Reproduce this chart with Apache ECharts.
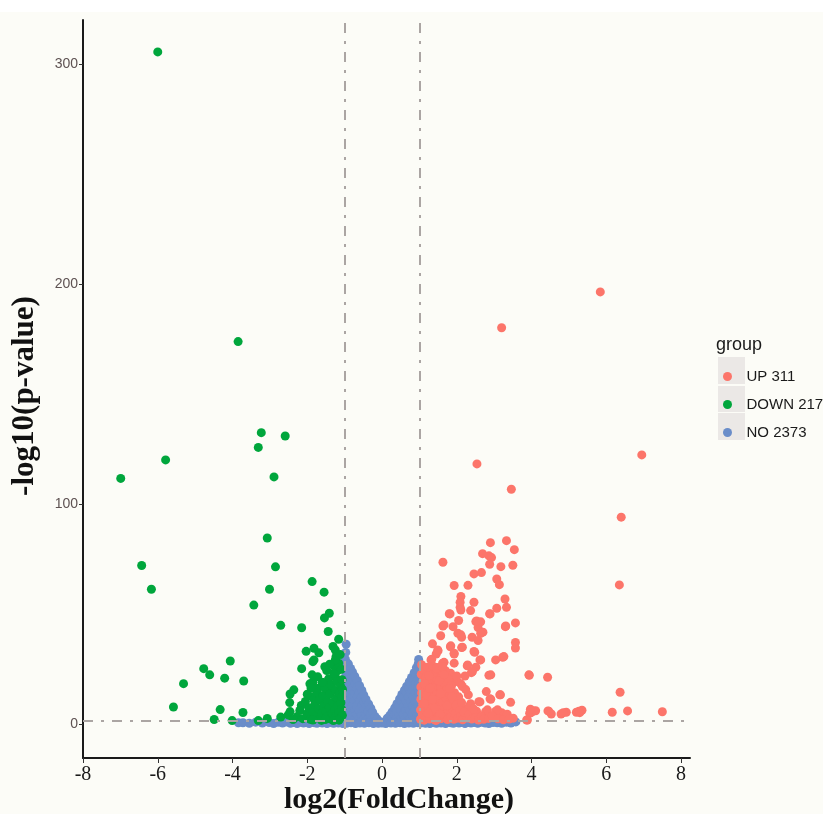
<!DOCTYPE html>
<html>
<head>
<meta charset="utf-8">
<script src="https://cdn.jsdelivr.net/npm/echarts@6/dist/echarts.min.js"></script>
<style>
html,body{margin:0;padding:0;background:#ffffff;}
#chart{width:823px;height:814px;}
</style>
</head>
<body>
<div id="chart"></div>
<script>
// ---- data (log2FC, -log10 p) ----
const groupNames = ['UP 311', 'DOWN 217', 'NO 2373'];
const xTicks = [-8, -6, -4, -2, 0, 2, 4, 6, 8];
const yTicks = [0, 100, 200, 300];
const fcThreshold = [-1, 1];
const pThreshold = 1.3;

const downPoints = [
[-6.0,305.5],[-3.85,173.8],[-3.23,132.4],[-2.59,130.9],[-3.31,125.7],[-5.79,120],[-6.99,111.6],[-2.89,112.3],
[-3.07,84.5],[-6.43,72],[-6.17,61.2],[-2.85,71.4],[-1.87,64.7],[-1.55,59.9],[-3.01,61.2],[-3.43,54],
[-2.71,44.8],[-2.15,43.7],[-1.41,50.3],[-1.54,48.2],[-1.44,42],[-1.16,38.5],[-4.06,28.6],[-4.77,25.1],
[-4.61,22.3],[-4.21,20.8],[-3.7,19.5],[-5.31,18.3],[-5.58,7.7],[-4.33,6.5],[-3.72,5.2],[-4.49,2.0],
[-4.01,1.5],[-3.07,2.5],[-2.71,3.1],[-3.31,1.5],[-2.51,4.1],[-2.03,33],[-1.82,34.4],[-1.69,32.3],
[-2.15,25.1],[-1.85,28.3],[-1.53,26],[-1.87,22.3],[-1.85,18.9],[-1.93,18.2],[-2.36,15.5],[-2.46,13.6],
[-2.47,9.7],[-2.16,8.4],[-2.46,5.6],[-1.31,35.2],[-1.25,33.6],[-1.23,30.6],[-1.27,26],[-1.19,24.1],
[-1.45,18.5],[-1.23,20.8],[-1.71,16.2],[-1.41,14.7],[-1.81,10.9],[-1.82,29.1],
[-2.28,3.2],[-2.2,6.1],[-2.12,2.4],[-2.05,10.2],[-2.0,4.8],[-1.96,7.3],[-1.92,2.1],[-1.88,12.4],
[-1.85,5.5],[-1.8,8.6],[-1.77,3.4],[-1.74,14.1],[-1.7,6.9],[-1.67,10.8],[-1.64,2.6],[-1.61,4.9],
[-1.58,12.9],[-1.56,8.1],[-1.53,16.4],[-1.5,5.8],[-1.48,3.1],[-1.46,10.2],[-1.43,20.5],[-1.41,7.4],
[-1.39,13.6],[-1.37,2.2],[-1.35,17.8],[-1.33,4.6],[-1.31,9.8],[-1.29,22.9],[-1.27,6.3],[-1.25,15.2],
[-1.23,3.5],[-1.21,11.7],[-1.2,19.3],[-1.18,8.2],[-1.16,27.6],[-1.15,5.1],[-1.14,13.9],[-1.12,2.8],
[-1.11,17.2],[-1.1,9.6],[-1.09,24.8],[-1.08,6.7],[-1.08,12.3],[-1.07,20.1],[-1.06,3.9],[-1.06,15.8],
[-1.6,18.9],[-1.72,21.4],[-1.9,16.3],[-2.0,13.5],[-1.48,24.3],[-1.25,29.1],[-1.12,31.5],[-1.4,27.1],
[-1.62,1.6],[-1.85,1.8],[-2.38,2.0],[-1.3,1.5],[-1.15,1.7],[-1.52,2.0]
];

const upPoints = [
[5.84,196.4],[3.2,180.1],[6.95,122.3],[2.54,118.2],[3.46,106.7],[6.4,94],[6.35,63.2],[6.37,14.4],
[3.94,22.1],[4.43,21.2],[7.5,5.5],[6.57,5.9],[6.16,5.3],[3.95,4.9],[4.06,5.9],[3.89,1.8],
[4.44,5.9],[4.53,4.5],[4.79,4.5],[4.93,5.3],[5.2,5.3],[5.35,6.2],[5.29,5.1],
[1.63,73.5],[2.9,82.4],[3.33,83.3],[3.54,79.2],[2.69,77.4],[2.86,76.4],[2.93,75.6],[2.88,72.6],
[3.18,71.5],[3.5,72.1],[2.66,68.8],[2.46,68.2],[1.93,62.9],[2.3,63],[3.07,65.9],[3.14,63.3],
[2.11,57.9],[2.09,55.3],[2.09,53],[2.46,55.3],[2.37,51.5],[3.29,56.8],[3.07,52.6],[3.33,53],
[2.88,50.1],[1.8,50.1],[2.05,47],[2.53,46.8],[2.64,46.4],[3.57,45.9],[1.63,44.5],[1.9,44.2],
[2.57,43.8],[3.3,44.2],[2.7,41.7],[1.57,40.1],[2.03,41.2],[2.13,39.4],[2.41,39.4],[2.57,37.9],
[3.57,37],[3.57,34.5],[1.35,36.4],[1.83,35.1],[2.13,34.7],[1.5,33.2],[2.48,32.6],[1.45,31.8],
[1.93,31.8],[1.33,29.4],[1.66,28],[1.93,27.6],[2.62,29.1],[3.04,29.1],[3.23,30.3],[2.28,26.4],
[2.51,25.8],[2.39,23.3],[2.22,21.8],[2.86,22.1],[1.93,19.5],[2.11,18.2],[2.79,14.7],[3.15,13.2],
[2.89,11.4],[2.31,13.2],[2.62,10],[2.37,9.2],[3.44,9.8],[2.11,7.9],[2.53,5.8],[2.77,5.5],
[3.04,5.8],[3.2,5.1],[3.35,4.4],[3.51,2.6],[3.99,5.1],[4.11,6],[4.46,5.8],[4.85,5.1],
[5.27,5.8],[2.28,4.5],[2.02,4.9],[1.84,6.4],[1.88,11.7],[1.75,17],[1.66,23],[1.84,23],
[1.47,25.6],[1.57,26],[1.82,50],[2.11,51.8],[2.89,50],[3.31,44.5],[2.51,46.5],[1.66,45],
[2.64,41.2],[2.11,40.5],[1.84,35.5],[2.15,34.9],[2.46,32.9],[1.49,33.6],[1.31,29.1],[1.62,27.6],
[1.93,32.1],[3.26,30.6],[2.29,26.8],[2.64,29.1],[2.42,23.8],[2.91,22.3],[3.93,22.3],[2.02,19.2],
[2.15,17],[3.17,13.2],[2.91,11.2],[2.59,10.1],[2.33,7.9],[3.97,6.7],[2.82,6.4],[3.09,6.4],
[3.87,1.8],
[1.03,2.1],[1.03,6.4],[1.04,11.2],[1.04,16.8],[1.05,22.5],[1.06,26.9],[1.08,4.2],[1.09,8.9],
[1.1,13.7],[1.1,19.4],[1.12,24.6],[1.13,1.7],[1.15,6.8],[1.16,10.5],[1.17,15.9],[1.18,21.2],
[1.2,3.4],[1.21,25.8],[1.22,8.1],[1.24,12.9],[1.25,18.3],[1.27,2.2],[1.28,5.6],[1.29,23.4],
[1.3,10.2],[1.32,14.8],[1.33,20.1],[1.35,3.9],[1.36,7.5],[1.37,26.2],[1.39,12.1],[1.4,17.2],
[1.42,1.8],[1.43,22.3],[1.44,5.9],[1.45,9.4],[1.47,14.6],[1.48,19.8],[1.5,3.1],[1.51,24.7],
[1.53,7.8],[1.54,11.9],[1.56,16.4],[1.58,2.4],[1.59,21.1],[1.6,5.2],[1.62,9.8],[1.63,13.5],
[1.65,18.7],[1.67,3.8],[1.68,7.1],[1.7,24.2],[1.72,11.4],[1.73,15.6],[1.75,2.0],[1.77,5.9],
[1.78,20.3],[1.8,9.1],[1.82,13.2],[1.84,3.3],[1.86,17.4],[1.88,6.7],[1.9,10.8],[1.92,2.1],
[1.94,14.2],[1.96,4.8],[1.98,8.5],[2.0,21.8],[2.03,2.6],[2.05,12.3],[2.08,6.1],[2.1,3.4],
[2.13,9.7],[2.16,1.9],[2.2,5.3],[2.24,15.6],[2.28,2.7],[2.33,4.2],[2.4,2.2],[2.45,6.8],
[2.5,2.9],[2.58,1.8],[2.66,3.4],[2.72,2.1],[2.85,2.5],[2.95,3.6],[3.1,2.3],[3.25,1.9],
[3.4,2.2],[1.06,14.1],[1.14,18.2],[1.19,13.2],[1.26,21.9],[1.34,16.6],[1.41,7.2],[1.46,25.3],
[1.52,19.6],[1.57,13.9],[1.66,22.4],[1.74,8.3],[1.81,16.1],[1.87,12.5],[1.35,11.1],[1.55,4.4],
[1.12,9.3],[1.23,4.9],[1.45,1.6],[1.28,16.2],[1.62,26.1]
];

const noPoints = [
[-0.99,2.2],[-0.99,6.1],[-0.98,10.3],[-0.98,14.2],[-0.98,18.4],[-0.97,22.1],[-0.97,25.9],[-0.98,29.4],[-0.97,32.5],[-0.96,36.2],
[-0.92,1.1],[-0.93,4.3],[-0.92,8.2],[-0.91,12.4],[-0.92,16.1],[-0.91,20.3],[-0.92,24.2],[-0.9,27.3],
[-0.86,2.3],[-0.85,6.2],[-0.86,10.1],[-0.85,14.3],[-0.84,18.2],[-0.86,22.1],[-0.84,25.2],
[-0.8,1.2],[-0.79,4.4],[-0.8,8.3],[-0.79,12.2],[-0.8,16.1],[-0.78,20.2],[-0.79,23.6],
[-0.74,2.1],[-0.73,6.3],[-0.74,10.2],[-0.73,14.1],[-0.72,18.3],[-0.73,21.7],
[-0.68,1.1],[-0.67,4.2],[-0.68,8.1],[-0.66,12.3],[-0.67,16.2],[-0.66,19.6],
[-0.62,2.2],[-0.61,6.1],[-0.6,10.3],[-0.61,14.2],[-0.6,17.4],
[-0.56,1.3],[-0.55,4.1],[-0.54,8.2],[-0.55,12.1],[-0.54,15.3],
[-0.5,2.1],[-0.49,6.2],[-0.48,10.1],[-0.49,13.2],
[-0.44,1.1],[-0.43,4.3],[-0.42,8.1],[-0.43,11.2],
[-0.38,2.2],[-0.37,5.6],[-0.36,9.1],
[-0.32,1.2],[-0.31,4.1],[-0.3,7.2],
[-0.26,2.1],[-0.25,5.3],[-0.2,1.1],[-0.19,3.4],[-0.14,0.6],[-0.13,2.3],[-0.07,1.1],[0.0,0.4],
[0.07,1.0],[0.13,0.7],[0.14,2.6],[0.2,1.3],[0.21,3.9],[0.26,2.1],[0.27,5.4],[0.32,1.2],[0.33,4.2],[0.34,7.3],
[0.38,2.3],[0.39,5.7],[0.4,9.2],[0.44,1.1],[0.45,4.4],[0.46,8.1],[0.47,11.3],[0.5,2.2],[0.51,6.1],[0.52,10.2],
[0.53,13.4],[0.56,1.2],[0.57,4.3],[0.58,8.2],[0.59,12.1],[0.6,15.3],[0.62,2.1],[0.63,6.2],[0.64,10.3],[0.65,14.2],
[0.66,17.1],[0.68,1.1],[0.69,4.2],[0.7,8.1],[0.71,12.2],[0.72,16.3],[0.73,19.2],[0.74,2.3],[0.75,6.1],[0.76,10.2],
[0.77,14.1],[0.78,18.2],[0.79,21.1],[0.8,1.2],[0.81,4.3],[0.82,8.2],[0.83,12.3],[0.84,16.1],[0.85,20.2],[0.86,23.3],
[0.87,2.1],[0.88,6.2],[0.89,10.1],[0.9,14.2],[0.9,18.1],[0.91,22.3],[0.92,25.6],[0.94,1.1],[0.94,4.2],[0.95,8.3],
[0.95,12.2],[0.96,16.3],[0.96,20.1],[0.97,24.2],[0.97,27.4],[0.98,29.3],[0.98,2.4],[0.99,6.1],[0.99,10.2],[0.99,14.1],[0.99,18.3],
[-3.84,0.5],[-3.72,0.5],[-3.55,0.3],[-3.38,0.8],[-3.2,0.4],[-3.02,0.6],[-2.9,0.2],[-2.78,0.7],[-2.66,0.4],[-2.55,0.9],
[-2.45,0.3],[-2.36,0.6],[-2.27,0.2],[-2.18,0.8],[-2.1,0.4],[-2.02,0.6],[-1.95,0.2],[-1.88,0.9],[-1.81,0.5],[-1.74,0.3],
[-1.67,0.8],[-1.6,0.4],[-1.53,0.6],[-1.47,0.2],[-1.41,0.9],[-1.35,0.5],[-1.29,0.3],[-1.23,0.8],[-1.17,0.4],[-1.11,0.6],
[-1.05,0.2],[-1.02,0.9],
[-0.95,0.3],[-0.83,0.5],[-0.71,0.2],[-0.59,0.4],[-0.47,0.3],[-0.35,0.5],[-0.23,0.2],[-0.1,0.3],
[0.1,0.2],[0.24,0.4],[0.36,0.3],[0.48,0.5],[0.6,0.2],[0.72,0.4],[0.84,0.3],[0.96,0.5],
[1.04,0.4],[1.1,0.8],[1.16,0.3],[1.22,0.6],[1.28,0.2],[1.34,0.9],[1.4,0.5],[1.46,0.3],[1.52,0.8],[1.58,0.4],
[1.64,0.6],[1.7,0.2],[1.77,0.9],[1.84,0.5],[1.91,0.3],[1.98,0.7],[2.06,0.4],[2.14,0.6],[2.22,0.2],[2.3,0.8],
[2.38,0.4],[2.47,0.6],[2.56,0.3],[2.66,0.7],[2.76,0.4],[2.86,0.2],[2.97,0.6],[3.08,0.5],[3.2,0.3],[3.33,0.7],
[3.45,0.4],[3.58,0.9]
];

const colors = { up: '#FC756A', down: '#00A63C', no: '#6A8DC9' };

const chart = echarts.init(document.getElementById('chart'), null, { renderer: 'canvas' });

const dashStyle = { color: '#aba5a3', width: 2, type: [10, 8, 3, 8] };

const option = {
  animation: false,
  backgroundColor: '#fcfcf7',
  grid: { left: 83, right: 133, top: 20, bottom: 56, containLabel: false },
  xAxis: {
    type: 'value', min: -8, max: 8.24,
    axisLine: { show: true, onZero: false, lineStyle: { color: '#1a1a1a', width: 2 } },
    axisTick: { show: true, length: 5, customValues: xTicks, lineStyle: { color: '#333', width: 1 } },
    axisLabel: { customValues: xTicks, margin: 7, color: '#1a1a1a', fontFamily: 'Liberation Serif', fontSize: 20 },
    splitLine: { show: false }
  },
  yAxis: {
    type: 'value', min: -15.5, max: 320,
    axisLine: { show: true, onZero: false, lineStyle: { color: '#1a1a1a', width: 2 } },
    axisTick: { show: true, length: 4, customValues: yTicks, lineStyle: { color: '#333', width: 1 } },
    axisLabel: { customValues: yTicks, margin: 5, color: '#5e5252', fontFamily: 'Liberation Sans', fontSize: 14 },
    splitLine: { show: false }
  },
  legend: {
    data: groupNames,
    orient: 'vertical', left: 718, top: 364,
    itemWidth: 28, itemHeight: 9, itemGap: 13, icon: 'circle',
    selectedMode: false,
    textStyle: { fontFamily: 'Liberation Sans', fontSize: 15, color: '#1a1a1a', lineHeight: 15 }
  },
  graphic: [
    { type: 'rect', left: 0, top: 0, z: -1, shape: { width: 823, height: 12 }, style: { fill: '#ffffff' } },
    { type: 'rect', x: 718, y: 357, z: 0, shape: { width: 27, height: 27 }, style: { fill: '#ebe8e6' } },
    { type: 'rect', x: 718, y: 386, z: 0, shape: { width: 27, height: 26 }, style: { fill: '#ebe8e6' } },
    { type: 'rect', x: 718, y: 413, z: 0, shape: { width: 27, height: 27 }, style: { fill: '#ebe8e6' } },
    { type: 'text', x: 716, y: 345, style: { text: 'group', fill: '#1a1a1a', font: '18px "Liberation Sans"', textVerticalAlign: 'middle' } },
    { type: 'text', x: 399, y: 800, style: { text: 'log2(FoldChange)', fill: '#111', font: 'bold 30px "Liberation Serif"', textAlign: 'center', textVerticalAlign: 'middle' } },
    { type: 'text', x: 25, y: 396, rotation: Math.PI / 2, style: { text: '-log10(p-value)', fill: '#111', font: 'bold 31px "Liberation Serif"', textAlign: 'center', textVerticalAlign: 'middle' } }
  ],
  series: [
    { name: groupNames[2], type: 'scatter', data: noPoints, symbolSize: 9, itemStyle: { color: colors.no, opacity: 1 }, z: 2 },
    { name: groupNames[1], type: 'scatter', data: downPoints, symbolSize: 9, itemStyle: { color: colors.down, opacity: 1 }, z: 3 },
    { name: groupNames[0], type: 'scatter', data: upPoints, symbolSize: 9, itemStyle: { color: colors.up, opacity: 1 }, z: 4 },
    {
      name: 'thresholds', type: 'scatter', data: [], z: 6,
      markLine: {
        silent: true, symbol: 'none', label: { show: false },
        lineStyle: dashStyle,
        data: [
          { xAxis: fcThreshold[0] },
          { xAxis: fcThreshold[1] },
          { yAxis: pThreshold }
        ]
      }
    }
  ]
};
chart.setOption(option);
</script>
</body>
</html>
